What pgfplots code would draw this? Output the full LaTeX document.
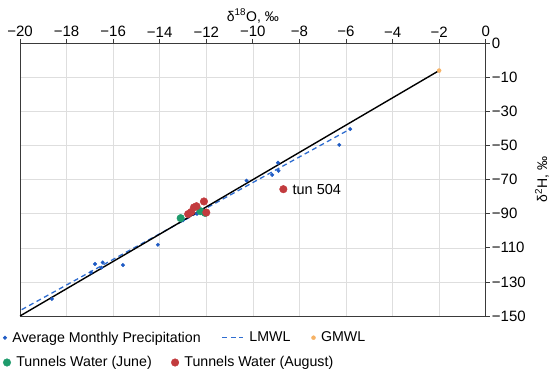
\documentclass[border=0pt]{standalone}
\usepackage{fontspec}
\setmainfont{Liberation Sans}
\usepackage{pgfplots}
\pgfplotsset{compat=1.18}
\definecolor{precblue}{HTML}{1F5BC4}
\definecolor{lmwlblue}{HTML}{2F6DD0}
\definecolor{gmwlorange}{HTML}{F6B265}
\definecolor{junegreen}{HTML}{1E9B6C}
\definecolor{augred}{HTML}{C23B3E}
\definecolor{gridgray}{HTML}{DEDEDE}
\definecolor{axisgray}{HTML}{3A3A3A}
\pgfplotsset{
  markleg/.style={legend image code/.code={\draw[##1] plot coordinates {(0bp,0bp)};}},
  lineleg/.style={legend image code/.code={\draw[##1] (0bp,0bp) -- (21bp,0bp);}},
}
\begin{document}
\begin{tikzpicture}
\begin{axis}[
  at={(0,0)}, anchor=south west,
  scale only axis, width=465.7bp, height=272.7bp,
  xmin=-20, xmax=0, ymin=-150, ymax=10,
  xtick={-20,-18,...,0},
  xticklabels={−20,−18,−16,−14,−12,−10,−8,−6,−4,−2,0},
  ytick={-150,-130,...,10},
  yticklabels={−150,−130,−110,−90,−70,−50,−30,−10,0},
  xtick pos=right, xticklabel pos=right,
  ytick pos=right, yticklabel pos=right,
  tick align=outside, major tick length=4bp,
  tick style={axisgray, line width=0.8bp},
  axis line style={axisgray, line width=0.9bp},
  grid=major, major grid style={gridgray, line width=0.6bp},
  tick label style={font=\fontsize{15bp}{17bp}\selectfont, text=black},
  xticklabel style={inner sep=2bp},
  yticklabel style={inner sep=2bp},
  xlabel={δ\textsuperscript{18}O, ‰},
  ylabel={δ\textsuperscript{2}H, ‰},
  label style={font=\fontsize{14bp}{16bp}\selectfont},
  xlabel style={at={(axis description cs:0.5,1.10)}, anchor=center},
  ylabel style={at={(axis description cs:1.121,0.5)}, anchor=center},
  legend columns=3,
  legend cell align=left,
  legend style={at={(rel axis cs:0,0)}, anchor=west, xshift=-17bp, yshift=-21.7bp,
    draw=none, fill=none, inner sep=0pt,
    font=\fontsize{14.2bp}{16bp}\selectfont,
    nodes={inner sep=2bp},
    /tikz/every odd column/.append style={column sep=3.5bp},
    /tikz/every even column/.append style={column sep=19bp}},
]
\addplot[only marks, mark=*, mark size=1.8bp, precblue, markleg] coordinates {
(-18.63,-140.0) (-16.95,-124.5) (-16.50,-121.6) (-16.78,-119.5) (-16.45,-118.6)
(-15.58,-120.1) (-14.08,-108.2) (-13.00,-93.8) (-12.40,-90.0) (-12.10,-88.2)
(-10.27,-70.6) (-9.17,-67.2) (-8.90,-64.8) (-8.92,-60.1) (-6.29,-49.6) (-5.82,-40.3)
};
\addlegendentry{Average Monthly Precipitation}
\addplot[lmwlblue, line width=1.3bp, dash pattern=on 5bp off 3.5bp, lineleg] coordinates {(-19.93,-146.3) (-5.82,-40.3)};
\addlegendentry{LMWL}
\addplot[black, line width=1.4bp, forget plot] coordinates {(-20,-150) (-2,-6)};
\addplot[only marks, mark=*, mark size=2bp, gmwlorange, markleg] coordinates {(-2,-6)};
\addlegendentry{GMWL}
\end{axis}
\begin{axis}[
  at={(0,0)}, anchor=south west,
  scale only axis, width=465.7bp, height=272.7bp,
  xmin=-20, xmax=0, ymin=-150, ymax=10,
  hide axis,
  legend columns=2,
  legend cell align=left,
  legend style={at={(rel axis cs:0,0)}, anchor=west, xshift=-17bp, yshift=-46.5bp,
    draw=none, fill=none, inner sep=0pt,
    font=\fontsize{14.2bp}{16bp}\selectfont,
    nodes={inner sep=2bp},
    /tikz/every odd column/.append style={column sep=3.5bp},
    /tikz/every even column/.append style={column sep=17.5bp}},
]
\addplot[only marks, mark=*, mark size=3.8bp, junegreen, mark options={draw=junegreen, fill=junegreen}, markleg] coordinates {
(-13.10,-92.6) (-12.25,-88.5) (-12.05,-89.5)
};
\addlegendentry{Tunnels Water (June)}
\addplot[only marks, mark=*, mark size=3.8bp, augred, mark options={draw=augred, fill=augred}, markleg] coordinates {
(-12.78,-90.2) (-12.65,-89.0) (-12.53,-86.3) (-12.42,-85.6) (-12.10,-82.8) (-12.00,-89.3) (-8.69,-75.6)
};
\addlegendentry{Tunnels Water (August)}
\node[anchor=west, font=\fontsize{14.5bp}{16bp}\selectfont, inner sep=0pt] at (axis cs:-8.3,-75.6) {tun 504};
\end{axis}
\pgfresetboundingbox
\path[use as bounding box] (-20bp,-56bp) rectangle (530bp,316bp);
\end{tikzpicture}
\end{document}
